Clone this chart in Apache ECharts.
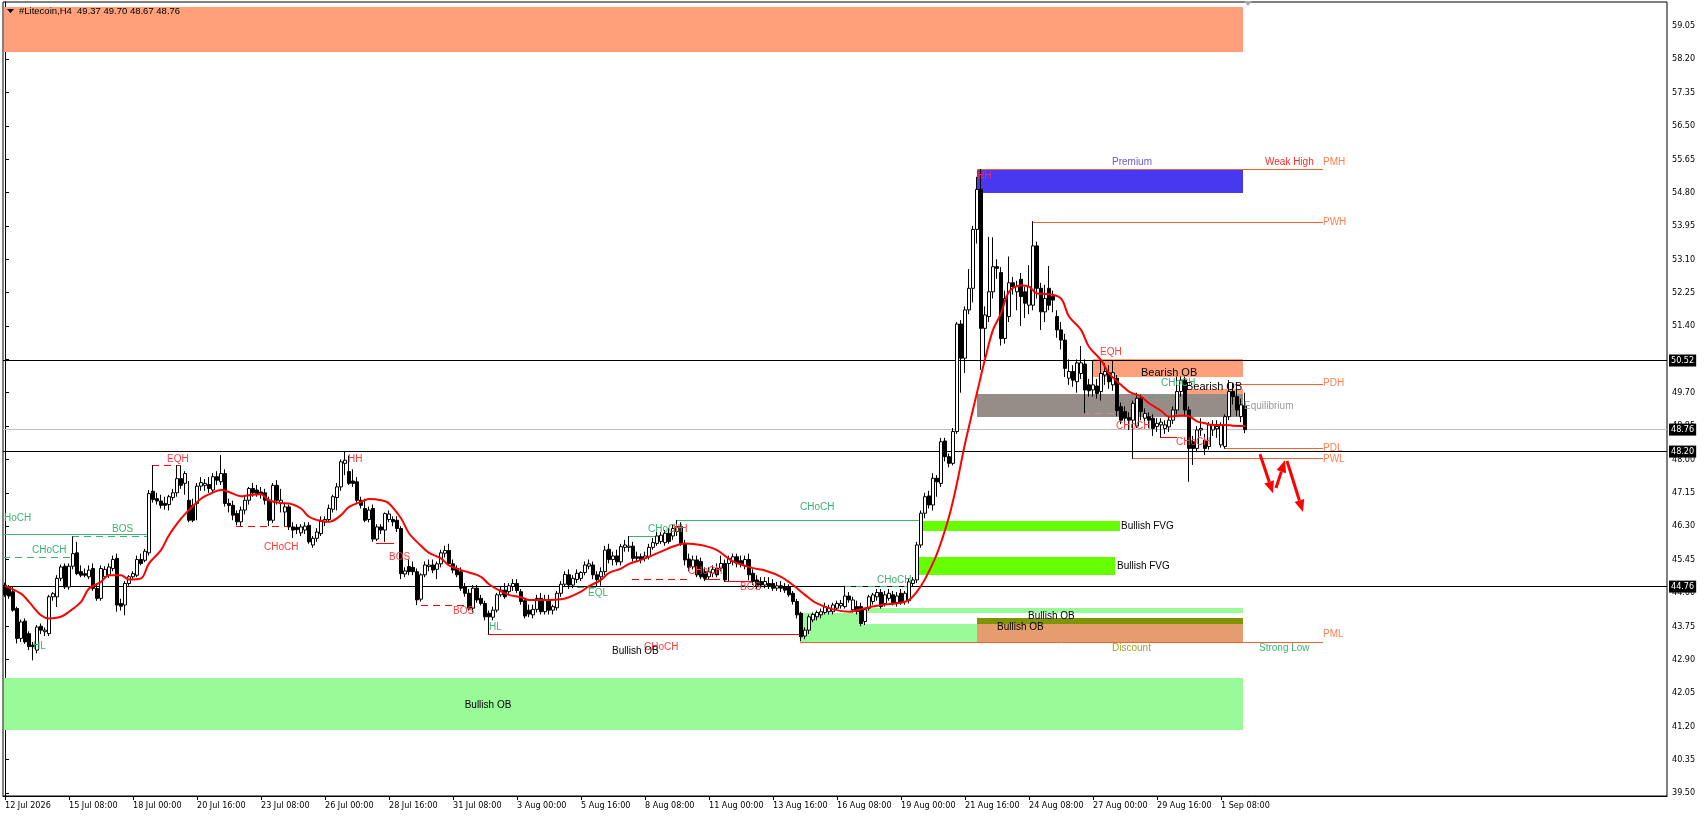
<!DOCTYPE html>
<html><head><meta charset="utf-8">
<script src="https://cdn.jsdelivr.net/npm/echarts@6/dist/echarts.min.js"></script>
<style>html,body{margin:0;padding:0;background:#fff}#c{width:1708px;height:817px}</style>
</head><body><div id="c"></div>
<script>
// ---------------- DATA ----------------
const symbolName = '#Litecoin,H4';
const headerOHLC = [49.37, 49.70, 48.67, 48.76];

const opens = [
44.80,44.75,44.63,44.20,43.44,43.88,43.56,43.27,43.14,43.75,
43.61,43.56,44.50,44.50,44.97,45.28,44.75,45.28,45.62,45.14,
45.09,45.01,45.22,44.71,44.46,45.01,45.05,45.22,45.48,44.33,
44.29,44.84,45.01,45.05,45.45,45.43,45.62,47.19,47.00,46.94,
46.88,46.85,47.03,47.15,47.51,47.39,46.96,46.83,46.88,47.32,
47.34,47.36,47.22,47.56,47.43,47.64,46.88,46.83,46.62,46.41,
46.71,46.96,47.26,47.22,47.17,47.15,46.96,46.45,47.34,46.88,
46.66,46.79,46.28,46.27,46.13,46.20,46.32,45.82,45.99,46.11,
46.41,46.47,46.73,47.03,47.30,47.90,47.69,47.45,47.43,46.96,
46.75,46.47,46.75,45.97,46.28,46.20,46.47,46.47,46.45,46.24,
45.08,45.27,45.25,45.14,44.44,45.06,45.27,45.31,45.20,45.34,
45.61,45.68,45.34,45.22,45.14,44.76,44.59,44.21,44.72,44.46,
44.33,44.08,43.98,44.16,44.55,44.67,44.63,44.76,44.84,44.63,
44.40,44.16,44.04,44.18,44.46,44.12,44.42,44.16,44.22,44.59,
44.82,45.06,44.80,44.94,44.97,45.12,45.28,45.31,45.06,45.01,
45.14,45.71,45.45,45.54,45.39,45.76,45.76,45.79,45.52,45.52,
45.48,45.52,45.76,45.86,45.91,45.88,46.12,46.05,46.16,46.29,
45.86,45.46,45.27,45.44,45.40,45.14,45.01,45.10,45.23,45.23,
45.35,45.35,45.40,45.52,45.42,45.29,45.45,45.10,44.93,44.89,
44.80,44.84,44.84,44.72,44.78,44.76,44.74,44.59,44.38,44.08,
43.50,43.65,43.91,43.99,44.04,44.10,44.12,44.12,44.21,44.27,
44.25,44.52,44.17,44.25,44.25,43.87,44.21,44.38,44.50,44.61,
44.33,44.46,44.55,44.35,44.59,44.38,44.40,44.84,44.93,45.82,
46.63,47.07,46.84,47.52,47.39,48.47,48.07,47.90,48.71,51.45,
50.58,51.81,52.36,53.86,54.88,51.34,51.64,52.27,52.91,52.76,
51.08,51.64,52.50,52.27,52.59,52.27,51.93,51.93,53.44,52.36,
51.76,52.36,52.15,51.64,51.30,51.04,50.07,50.24,49.98,50.19,
50.43,49.90,49.77,49.87,49.73,50.15,50.21,49.90,50.07,49.34,
49.22,49.07,49.00,48.85,49.56,49.05,49.09,49.05,48.84,48.88,
48.79,48.83,49.00,49.26,49.73,50.02,49.26,48.45,48.28,48.75,
48.49,48.33,48.75,48.78,48.37,48.33,49.09,49.73,49.60,49.09,
49.37];
const highs = [
44.86,44.80,44.75,44.25,43.92,43.95,43.62,43.35,43.78,43.82,
43.72,44.55,44.62,45.05,45.32,45.35,45.35,46.04,45.90,45.30,
45.22,45.30,45.35,44.80,45.30,45.28,45.35,45.55,45.60,44.45,
44.90,45.05,45.15,45.55,45.60,45.72,47.22,47.85,47.15,47.10,
47.05,47.10,47.25,47.85,47.85,47.70,47.45,47.00,47.40,47.55,
47.50,47.55,47.65,47.70,48.11,47.75,47.00,46.95,46.70,46.80,
47.05,47.30,47.40,47.35,47.30,47.25,47.05,47.40,47.47,47.25,
46.90,46.85,46.40,46.35,46.35,46.40,46.40,46.05,46.25,46.55,
46.55,46.85,47.10,47.40,48.00,48.19,48.10,47.75,47.55,47.05,
47.00,46.80,46.85,46.35,46.35,46.65,46.70,46.55,46.55,46.30,
45.25,45.45,45.40,45.22,45.10,45.40,45.45,45.45,45.40,45.70,
45.80,45.85,45.45,45.30,45.25,44.85,44.70,44.80,44.80,44.55,
44.40,44.15,44.25,44.60,44.75,44.85,44.85,44.95,44.95,44.70,
44.45,44.30,44.30,44.55,44.60,44.55,44.55,44.30,44.65,44.90,
45.15,45.20,45.05,45.20,45.15,45.40,45.45,45.40,45.15,45.25,
45.80,45.85,45.65,45.70,45.85,45.95,46.05,45.90,45.65,45.60,
45.65,45.85,46.00,46.15,46.15,46.20,46.25,46.35,46.46,46.40,
45.95,45.60,45.55,45.55,45.50,45.25,45.25,45.30,45.35,45.55,
45.45,45.55,45.60,45.60,45.55,45.55,45.60,45.20,45.05,45.00,
45.00,45.00,44.95,44.88,44.90,44.85,44.82,44.65,44.45,44.12,
43.72,44.05,44.10,44.15,44.20,44.35,44.30,44.35,44.40,44.42,
44.78,44.62,44.50,44.40,44.35,44.20,44.55,44.60,44.70,44.70,
44.65,44.70,44.65,44.62,44.70,44.65,44.98,45.00,45.90,46.70,
47.15,47.20,47.65,47.60,48.55,48.55,48.15,48.80,51.50,51.55,
51.90,52.85,53.95,55.20,55.40,51.90,53.67,53.66,53.10,52.90,
52.30,53.17,52.65,52.55,52.75,52.40,52.95,54.07,53.55,52.50,
52.45,52.93,52.30,51.80,51.50,51.20,50.55,50.40,50.55,50.89,
50.55,50.05,50.53,50.05,50.53,50.45,50.40,50.53,50.15,49.45,
49.35,49.20,49.50,49.70,49.65,49.30,49.20,49.15,49.05,49.05,
49.00,49.10,49.35,50.11,50.11,50.11,49.35,48.60,48.85,49.05,
48.65,48.95,49.00,49.00,48.95,49.15,50.02,49.95,49.80,49.55,
49.70];
const lows = [
44.50,44.45,44.12,43.31,43.35,43.30,43.14,42.88,43.06,43.55,
43.50,43.50,44.40,44.24,44.90,44.70,44.68,45.20,45.05,45.00,
45.00,44.95,44.65,44.40,44.40,44.95,44.98,45.15,44.12,44.15,
44.03,44.78,44.95,45.00,45.30,45.38,45.55,46.90,46.85,46.75,
46.72,46.70,46.95,47.05,47.25,47.10,46.40,46.40,46.45,47.20,
47.20,47.15,47.15,47.35,47.35,46.80,46.65,46.45,46.32,46.30,
46.60,46.85,47.05,47.05,47.00,46.85,46.30,46.38,46.85,46.65,
46.30,46.20,46.00,46.10,46.05,46.10,45.85,45.75,45.90,46.05,
46.30,46.40,46.65,46.70,47.20,47.60,47.35,47.30,46.90,46.75,
46.40,46.40,45.90,45.92,46.10,45.90,46.40,46.30,46.15,44.95,
45.00,45.05,45.05,44.29,44.38,45.00,45.15,45.10,44.95,45.25,
45.50,45.30,45.10,45.00,44.65,44.50,44.15,44.10,44.35,44.28,
43.90,43.55,43.90,44.10,44.50,44.45,44.55,44.65,44.60,44.30,
43.95,43.98,43.95,44.10,44.05,44.05,44.05,44.05,44.15,44.50,
44.75,44.70,44.72,44.85,44.90,45.05,45.20,44.95,44.75,44.78,
45.05,45.35,45.30,45.30,45.30,45.65,45.65,45.40,45.40,45.35,
45.40,45.45,45.70,45.80,45.85,45.80,45.85,45.95,46.05,45.80,
45.30,45.15,45.20,45.00,44.95,44.90,44.95,45.00,45.00,45.15,
44.88,44.90,45.30,45.25,45.25,45.20,44.92,44.80,44.70,44.72,
44.72,44.70,44.65,44.65,44.62,44.60,44.50,44.30,43.95,43.37,
43.42,43.55,43.85,43.90,43.95,44.05,44.05,44.05,44.15,44.20,
44.20,44.35,44.10,44.05,43.75,43.78,44.15,44.30,44.40,44.20,
44.25,44.40,44.28,44.25,44.30,44.30,44.33,44.75,44.85,45.75,
46.50,46.75,46.70,47.05,47.30,47.95,47.80,47.85,48.65,49.70,
50.20,51.70,52.00,53.50,50.28,50.60,51.50,52.10,52.60,50.90,
50.95,51.50,52.20,51.80,51.40,51.60,51.70,51.80,52.10,51.30,
51.50,51.80,51.75,51.10,50.80,50.10,49.90,49.85,49.70,50.05,
49.17,49.60,49.60,49.55,49.50,49.90,49.80,49.75,49.10,48.90,
48.85,48.75,48.02,48.80,49.00,48.90,48.80,48.60,48.70,48.56,
48.65,48.70,48.90,49.15,49.60,49.10,47.43,47.86,48.20,48.60,
48.11,48.25,48.60,48.55,48.30,48.27,49.00,49.40,49.10,48.95,
48.67];
const closes = [
44.55,44.52,44.16,43.44,43.86,43.35,43.23,43.23,43.73,43.65,
43.65,44.50,44.58,44.97,45.26,44.75,45.28,45.60,45.09,45.05,
45.05,45.18,44.71,44.46,45.22,45.20,45.26,45.45,44.29,44.26,
44.84,45.01,45.09,45.45,45.35,45.66,47.13,46.98,46.94,46.83,
46.83,47.05,47.15,47.51,47.34,47.64,46.45,46.45,47.32,47.41,
47.39,47.26,47.56,47.47,47.64,46.88,46.83,46.58,46.41,46.71,
46.96,47.26,47.15,47.13,47.13,46.96,46.45,47.34,46.96,46.96,
46.79,46.28,46.20,46.21,46.28,46.30,45.90,45.99,46.15,46.45,
46.47,46.75,47.05,47.30,47.94,47.98,47.39,47.39,46.96,46.83,
46.45,46.71,45.97,46.28,46.20,46.62,46.61,46.41,46.24,45.09,
45.16,45.14,45.14,44.42,45.06,45.31,45.31,45.18,45.34,45.62,
45.68,45.35,45.18,45.06,44.72,44.59,44.21,44.72,44.42,44.33,
43.99,43.99,44.16,44.55,44.67,44.50,44.78,44.84,44.66,44.38,
44.01,44.06,44.18,44.46,44.12,44.42,44.16,44.25,44.59,44.82,
45.07,44.80,44.97,45.10,45.12,45.31,45.34,45.06,44.94,45.14,
45.69,45.45,45.54,45.39,45.78,45.82,45.79,45.48,45.48,45.45,
45.54,45.76,45.88,46.05,46.07,46.12,45.91,46.24,46.29,45.86,
45.44,45.25,45.44,45.06,45.01,44.97,45.14,45.20,45.06,45.35,
44.93,45.48,45.52,45.35,45.35,45.45,45.06,44.89,44.76,44.80,
44.89,44.78,44.72,44.78,44.72,44.67,44.55,44.38,44.04,43.48,
43.65,43.99,44.05,44.10,44.12,44.25,44.21,44.29,44.33,44.33,
44.52,44.42,44.42,44.12,43.82,44.17,44.50,44.55,44.61,44.25,
44.55,44.59,44.35,44.52,44.35,44.59,44.88,44.93,45.82,46.63,
47.05,46.84,47.52,47.43,48.45,48.07,47.90,48.71,51.45,50.58,
51.81,52.36,53.86,54.88,51.34,51.68,52.27,52.91,52.87,51.08,
52.10,52.50,52.40,52.40,52.15,51.98,52.40,53.44,52.36,51.76,
52.10,51.93,52.06,51.30,51.04,50.32,50.24,50.02,50.46,50.46,
49.77,49.75,49.90,49.68,50.19,50.24,49.98,50.21,49.24,49.00,
49.05,49.00,49.43,49.56,49.22,49.17,49.00,48.79,48.92,48.95,
48.88,49.00,49.26,49.73,50.02,49.26,48.28,48.28,48.75,48.79,
48.28,48.88,48.88,48.84,48.88,49.09,49.73,49.60,49.26,49.39,
48.76];

// moving average at [bar, price]
const maPoints = [[0,44.78],[4,44.58],[6,44.37],[9,44.03],[11,43.95],[14,43.99],[16,44.12],[19,44.37],[21,44.71],[24,44.88],[26,45.05],[29,45.05],[31,44.94],[34,44.97],[36,45.35],[39,45.69],[41,46.07],[44,46.49],[46,46.71],[49,47.00],[51,47.11],[54,47.22],[56,47.17],[59,47.06],[61,47.09],[64,47.11],[66,46.96],[69,46.89],[71,46.88],[74,46.75],[76,46.54],[79,46.43],[81,46.41],[84,46.58],[86,46.79],[89,46.92],[91,46.99],[94,46.96],[96,46.88],[99,46.50],[101,46.12],[104,45.80],[106,45.62],[109,45.48],[111,45.30],[114,45.18],[116,45.12],[119,45.01],[121,44.82],[124,44.64],[126,44.55],[129,44.49],[131,44.42],[134,44.42],[136,44.42],[139,44.44],[141,44.49],[144,44.63],[146,44.77],[149,44.93],[151,45.11],[154,45.22],[156,45.34],[159,45.44],[161,45.52],[164,45.65],[167,45.78],[170,45.86],[174,45.82],[178,45.69],[182,45.40],[187,45.23],[190,45.17],[194,45.01],[197,44.80],[200,44.55],[203,44.33],[207,44.18],[211,44.12],[215,44.21],[219,44.29],[224,44.35],[226,44.42],[228,44.63],[230,44.95],[233,45.60],[236,46.54],[238,47.40],[240,48.40],[243,49.70],[245,50.55],[247,51.30],[249,51.72],[251,52.27],[254,52.43],[256,52.40],[258,52.23],[261,52.21],[264,52.10],[266,51.64],[269,51.30],[271,50.87],[274,50.53],[276,50.19],[279,49.90],[281,49.73],[284,49.60],[286,49.43],[289,49.24],[291,49.09],[294,49.12],[296,49.10],[298,48.97],[300,48.92],[302,48.88],[305,48.88],[307,48.86],[310,48.85]];

const xTickLabels = ['12 Jul 2026','15 Jul 08:00','18 Jul 00:00','20 Jul 16:00','23 Jul 08:00','26 Jul 00:00','28 Jul 16:00','31 Jul 08:00','3 Aug 00:00','5 Aug 16:00','8 Aug 08:00','11 Aug 00:00','13 Aug 16:00','16 Aug 08:00','19 Aug 00:00','21 Aug 16:00','24 Aug 08:00','27 Aug 00:00','29 Aug 16:00','1 Sep 08:00'];
const yTickValues = [39.50,40.35,41.20,42.05,42.90,43.75,44.60,45.45,46.30,47.15,48.00,48.85,49.70,50.55,51.40,52.25,53.10,53.95,54.80,55.65,56.50,57.35,58.20,59.05];
const priceLevels = [50.52, 48.20, 44.76];
const lastPrice = 48.76;

// zones: [fromBar, toBar, topPrice, bottomPrice]
const zones = [
 [-0.25,309.5,59.52,58.39],[243,309.5,55.39,54.80],[272,309.5,50.546,50.10],[294.5,309.5,49.79,49.66],
 [294,309.5,49.67,49.60],[243,309.5,49.66,49.09],[229.25,278.75,46.43,46.17],[228.25,277.5,45.52,45.06],
 [213.75,309.5,44.215,44.095],[198.75,214.5,44.095,43.36],[214.5,243,43.81,43.36],[243,309.5,43.97,43.81],
 [243,309.5,43.81,43.36],[-0.25,309.5,42.42,41.11]];
const zoneKinds = ['supply','premium','bearOB','bearOB','lime','equil','fvg','fvg','demand','demand','demand','olive','tan','demand'];

// structure levels: [fromBar, toBar, price]
const levels = [
 [-0.5,35.5,46.10],[16.75,35.5,46.05],[-0.5,16.75,45.51],[36.75,43.75,47.85],[57.75,70.5,46.30],
 [92.75,97.25,45.86],[104,116.25,44.29],[120.75,198.75,43.55],[167.75,228.5,46.45],[155.75,162.5,46.05],
 [156.75,170.5,44.95],[174.75,178.75,44.95],[179.75,186.5,44.91],[143,148.75,44.75],[209.75,226.25,44.77],
 [269.5,278.75,49.18],[283,294,49.60],[288.75,293,48.56],
 [243,329.5,55.39],[257,329.5,54.05],[307.5,329.5,49.93],[305,329.5,48.29],[281.75,329.5,48.03],[198.75,329.5,43.36]];
const levelKinds = ['gSolid','gDash','gDash','rDash','rDash','rSolid','rDash','rSolid','gSolid','gSolid',
 'rDash','rSolid','rSolid','gDash','gDash','rFaint','gDash','rSolid','pLine','pLine','pLine','pLine','pLine','pLine'];

// text notes: [bar, price]
const notePos = [
 [-0.25,46.50],[26.75,46.23],[6.75,45.69],[7,43.25],[40.5,48.02],[85.75,48.02],[64.75,45.77],[96,45.52],
 [112,44.15],[121,43.73],[159.75,43.23],[151.75,43.12],[198.75,46.79],[160.75,46.23],[167,46.23],[145.75,44.60],
 [170.75,45.16],[183.75,44.75],[218,44.94],[279,46.30],[278,45.28],[255.75,44.02],[248,43.73],[276.75,43.19],
 [313.5,43.19],[329.5,43.55],[120.75,41.74],[281.75,55.58],[315,55.58],[329.5,55.58],[329.5,54.06],[329.5,49.95],
 [329.5,48.28],[329.5,48.02],[273.75,50.74],[284,50.19],[289,49.94],[295.25,49.84],[309.75,49.37],[277.75,48.86],
 [292.75,48.44],[243,55.23]];
const noteTexts = ['HoCH','BOS','CHoCH','HL','EQH','HH','CHoCH','BOS',
 'BOS','HL','CHoCH','Bullish OB','CHoCH','CHoCH','HH','EQL',
 'CHoCH','BOS','CHoCH','Bullish FVG','Bullish FVG','Bullish OB','Bullish OB','Discount',
 'Strong Low','PML','Bullish OB','Premium','Weak High','PMH','PWH','PDH',
 'PDL','PWL','EQH','Bearish OB','CHoCH','Bearish OB','Equilibrium','CHoCH',
 'CHoCH','HH'];
const noteKinds = ['bull','bull','bull','bull','bear','bear','bear','bear',
 'bear','bull','bear','zone','bull','bull','bear','bull',
 'bear','bear','bull','zone','zone','zone','zone','discount',
 'bull','plabel','zoneC','premium','weak','plabel','plabel','plabel',
 'plabel','plabel','bear','zoneBig','bull','zoneBig','equil','bear',
 'bear','hh'];

// projected path arrows: [bar0, price0, bar1, price1]
const arrows = [[313.75,48.13,317,47.14],[317.75,47.27,320,47.98],[320.5,47.96,324.5,46.66]];

// ---------------- STYLES ----------------
const FONT_AX = 'Tahoma, "DejaVu Sans Condensed", "Liberation Sans", Arial, sans-serif';
const FONT_TX = '"Liberation Sans", Arial, sans-serif';
const ZONE_COLORS = {supply:'#ffa07a', premium:'#4838f0', bearOB:'#ffa07a', lime:'#8fd21e', equil:'#978d88',
  fvg:'#66ff00', demand:'#98fb98', olive:'#7f9400', tan:'#e59c6e'};
const LEVEL_STYLES = {
  gSolid:{stroke:'#3cb371', dash:null}, gDash:{stroke:'#3cb371', dash:[7,5]},
  rSolid:{stroke:'#ff0000', dash:null}, rDash:{stroke:'#ff0000', dash:[7,5]},
  rFaint:{stroke:'#c89090', dash:[7,5]}, pLine:{stroke:'#f4622e', dash:null}};
const NOTE_STYLES = {
  bull:{fill:'#3cb371', size:10, align:'left'}, bear:{fill:'#ff3c3c', size:10, align:'left'},
  zone:{fill:'#000', size:10, align:'left'}, zoneBig:{fill:'#000', size:11, align:'left'},
  zoneC:{fill:'#000', size:10, align:'center'}, discount:{fill:'#a0a028', size:10, align:'left'},
  plabel:{fill:'#ff7f50', size:10, align:'left'}, premium:{fill:'#6a5acd', size:10, align:'center'},
  weak:{fill:'#ff2a2a', size:10, align:'left'}, equil:{fill:'#999999', size:10, align:'left'},
  hh:{fill:'#ff2060', size:10, align:'left'}};

// ---------------- BUILD ----------------
const N_SLOTS = 416;
const categories = [];
const t0 = Date.UTC(2026, 6, 12, 16);
for (let i = 0; i < N_SLOTS; i++) {
  categories.push(new Date(t0 + i * 4 * 3600e3).toISOString().slice(0, 16).replace('T', ' '));
}
const candleData = opens.map((o, i) => [o, closes[i], lows[i], highs[i]]);
const isLabelTick = (i) => i % 16 === 0 && i / 16 < xTickLabels.length;

const chart = echarts.init(document.getElementById('c'), null, {renderer:'canvas', width:1708, height:817});

const boxLabel = {show:true, position:'end', distance:2, formatter:(p) => p.value.toFixed(2),
  backgroundColor:'#000', color:'#fff', padding:[2,2,1,2], fontSize:9, fontFamily:FONT_AX};

chart.setOption({
  animation:false,
  backgroundColor:'#fff',
  grid:{left:3, right:41, top:2, bottom:21, show:true, borderColor:'#000', borderWidth:1, backgroundColor:'#fff'},
  xAxis:[
    {type:'category', data:categories, boundaryGap:true, gridIndex:0,
     axisLine:{show:true, lineStyle:{color:'#000'}},
     axisTick:{show:true, interval:isLabelTick, alignWithLabel:true, length:4, lineStyle:{color:'#000'}},
     axisLabel:{interval:isLabelTick, formatter:(v, i) => xTickLabels[i / 16], align:'left', margin:5,
       color:'#000', fontSize:9, fontFamily:FONT_AX},
     splitLine:{show:false}},
    {type:'value', min:-0.5, max:N_SLOTS - 0.5, show:false, gridIndex:0}
  ],
  yAxis:{type:'value', position:'right', min:39.425, max:59.654,
    splitLine:{show:false},
    axisLine:{show:true, lineStyle:{color:'#000'}},
    axisTick:{show:true, length:4, lineStyle:{color:'#000'}, customValues:yTickValues},
    axisLabel:{customValues:yTickValues, formatter:(v) => v.toFixed(2), color:'#000', fontSize:9,
      fontFamily:FONT_AX, margin:5}},
  graphic:[
    {type:'polygon', shape:{points:[[7,9],[14,9],[10.5,13]]}, style:{fill:'#000'}, z:100},
    {type:'text', x:19, y:11, style:{text:symbolName + '  ' + headerOHLC.map(v => v.toFixed(2)).join(' '),
      font:'9.5px ' + FONT_TX, fill:'#000', verticalAlign:'middle'}, z:100},
    {type:'polygon', shape:{points:[[1244,1],[1252,1],[1248,6]]}, style:{fill:'#a8a8a8'}, z:100}
  ],
  series:[
    {type:'custom', name:'zones', xAxisIndex:1, yAxisIndex:0, z:1, silent:true,
     data:zones, encode:{x:[0,1], y:[2,3]},
     renderItem:(params, api) => {
       const a = api.coord([api.value(0), api.value(2)]);
       const b = api.coord([api.value(1), api.value(3)]);
       const x0 = Math.round(a[0]), y0 = Math.round(a[1]), x1 = Math.round(b[0]), y1 = Math.round(b[1]);
       return {type:'rect', shape:{x:x0, y:y0, width:x1 - x0, height:Math.max(1, y1 - y0)},
         style:{fill:ZONE_COLORS[zoneKinds[params.dataIndex]]}};
     }},
    {type:'custom', name:'levels', xAxisIndex:1, yAxisIndex:0, z:2, silent:true,
     data:levels, encode:{x:[0,1], y:2},
     renderItem:(params, api) => {
       const a = api.coord([api.value(0), api.value(2)]);
       const b = api.coord([api.value(1), api.value(2)]);
       const st = LEVEL_STYLES[levelKinds[params.dataIndex]];
       const y = Math.round(a[1]) + 0.5;
       return {type:'line', shape:{x1:Math.round(a[0]), y1:y, x2:Math.round(b[0]), y2:y},
         style:{stroke:st.stroke, lineWidth:1, lineDash:st.dash}};
     },
     markLine:{silent:true, symbol:['none','none'], animation:false, z:2,
       data:[
         ...priceLevels.map(v => ({yAxis:v, lineStyle:{color:'#000', type:'solid', width:1}, label:boxLabel})),
         {yAxis:lastPrice, lineStyle:{color:'#c0c0c0', type:'solid', width:1}, label:boxLabel}
       ]}},
    {type:'candlestick', name:'price', xAxisIndex:0, yAxisIndex:0, z:3, barWidth:3,
     data:candleData,
     itemStyle:{color:'#ffffff', color0:'#000000', borderColor:'#000000', borderColor0:'#000000', borderWidth:1}},
    {type:'line', name:'MA', xAxisIndex:1, yAxisIndex:0, z:4, data:maPoints, smooth:0.35, symbol:'none',
     lineStyle:{color:'#ff0000', width:2}, silent:true},
    {type:'custom', name:'notes', xAxisIndex:1, yAxisIndex:0, z:5, silent:true,
     data:notePos, encode:{x:0, y:1},
     renderItem:(params, api) => {
       const p = api.coord([api.value(0), api.value(1)]);
       const st = NOTE_STYLES[noteKinds[params.dataIndex]];
       return {type:'text', x:Math.round(p[0]), y:Math.round(p[1]),
         style:{text:noteTexts[params.dataIndex], fill:st.fill, font:st.size + 'px ' + FONT_TX,
           align:st.align, verticalAlign:'middle'}};
     }},
    {type:'custom', name:'arrows', xAxisIndex:1, yAxisIndex:0, z:5, silent:true,
     data:arrows, encode:{x:[0,2], y:[1,3]},
     renderItem:(params, api) => {
       const a = api.coord([api.value(0), api.value(1)]);
       const b = api.coord([api.value(2), api.value(3)]);
       const dx = b[0] - a[0], dy = b[1] - a[1], len = Math.hypot(dx, dy);
       const ux = dx / len, uy = dy / len, hl = 12, hw = 5;
       const bx = b[0] - ux * hl, by = b[1] - uy * hl;
       return {type:'group', children:[
         {type:'line', shape:{x1:a[0], y1:a[1], x2:bx, y2:by}, style:{stroke:'#ff0000', lineWidth:3}},
         {type:'polygon', shape:{points:[[b[0], b[1]], [bx - uy * hw, by + ux * hw], [bx + uy * hw, by - ux * hw]]},
          style:{fill:'#ff0000'}}
       ]};
     }}
  ]
});
</script></body></html>
